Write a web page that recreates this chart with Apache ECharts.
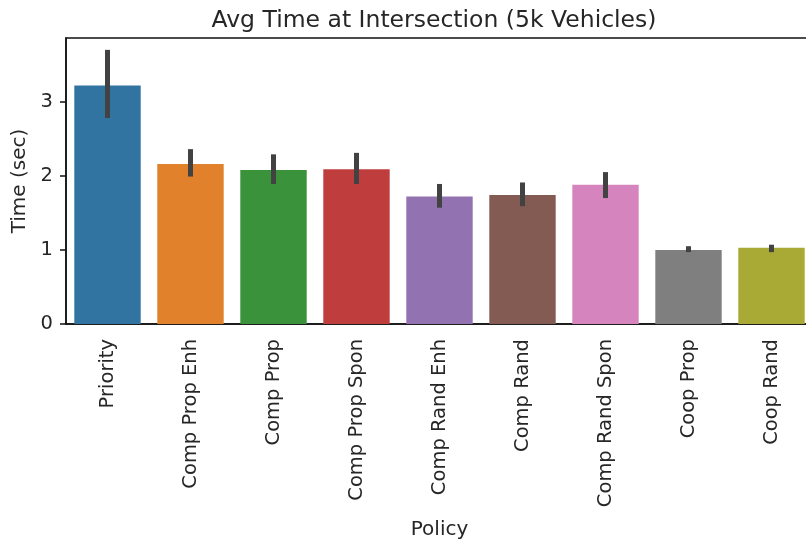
<!DOCTYPE html>
<html>
<head>
<meta charset="utf-8">
<script src="https://cdn.jsdelivr.net/npm/echarts@6/dist/echarts.min.js"></script>
<style>
  html, body { margin: 0; padding: 0; background: #fff; }
  #chart { width: 806px; height: 541px; }
</style>
</head>
<body>
<div id="chart"></div>
<script>
// Policies and their mean time at the intersection, with confidence intervals
const categories = ['Priority', 'Comp Prop Enh', 'Comp Prop', 'Comp Prop Spon',
  'Comp Rand Enh', 'Comp Rand', 'Comp Rand Spon', 'Coop Prop', 'Coop Rand'];
const meanTime = [3.22, 2.16, 2.08, 2.09, 1.72, 1.74, 1.88, 1.00, 1.03];
const ciLow    = [2.78, 1.99, 1.89, 1.89, 1.57, 1.59, 1.70, 0.97, 0.97];
const ciHigh   = [3.70, 2.36, 2.29, 2.31, 1.89, 1.91, 2.05, 1.05, 1.07];
const yTicks = [0, 1, 2, 3];
const barColors = ['#3274a1', '#e1812c', '#3a923a', '#c03d3e', '#9372b2',
  '#845b53', '#d684bd', '#7f7f7f', '#a9aa35'];

const FONT = 'DejaVu Sans';
const TEXT = '#262626';

const chart = echarts.init(document.getElementById('chart'), null, { renderer: 'canvas' });

chart.setOption({
  animation: false,
  backgroundColor: '#ffffff',
  title: {
    text: 'Avg Time at Intersection (5k Vehicles)',
    left: 429, top: 4, textAlign: 'center',
    textStyle: { fontFamily: FONT, fontSize: 23.5, fontWeight: 'normal', color: TEXT }
  },
  grid: {
    left: 66, top: 38, right: -7, bottom: 217,
    outerBoundsMode: 'none', containLabel: false,
    show: true, borderColor: '#111', borderWidth: 1.5, backgroundColor: 'transparent'
  },
  xAxis: {
    type: 'category',
    data: categories,
    name: 'Policy',
    nameLocation: 'middle',
    nameGap: 196,
    nameTextStyle: { fontFamily: FONT, fontSize: 20, color: TEXT },
    axisLine: { lineStyle: { color: '#111', width: 1.5 } },
    axisTick: { alignWithLabel: true, length: 6, lineStyle: { color: '#111', width: 1.5 } },
    axisLabel: { rotate: 90, margin: 15, fontFamily: FONT, fontSize: 19.5, color: TEXT }
  },
  yAxis: {
    type: 'value',
    min: 0, max: 3.86, interval: 1,
    name: 'Time (sec)',
    nameLocation: 'middle',
    nameGap: 34,
    nameTextStyle: { fontFamily: FONT, fontSize: 20, color: TEXT },
    splitLine: { show: false },
    axisLine: { show: true, lineStyle: { color: '#111', width: 1.5 } },
    axisTick: { show: true, length: 6, customValues: yTicks, lineStyle: { color: '#111', width: 1.5 } },
    axisLabel: { margin: 13, customValues: yTicks, fontFamily: FONT, fontSize: 19.5, color: TEXT }
  },
  series: [
    {
      type: 'bar',
      barWidth: '80%',
      data: meanTime.map((v, i) => ({ value: v, itemStyle: { color: barColors[i] } }))
    },
    {
      type: 'custom',
      z: 10,
      data: categories.map((c, i) => [i, ciLow[i], ciHigh[i]]),
      renderItem: function (params, api) {
        const lo = api.coord([api.value(0), api.value(1)]);
        const hi = api.coord([api.value(0), api.value(2)]);
        return {
          type: 'line',
          shape: { x1: lo[0], y1: lo[1], x2: hi[0], y2: hi[1] },
          style: { stroke: '#424242', lineWidth: 5 }
        };
      }
    }
  ]
});
</script>
</body>
</html>
